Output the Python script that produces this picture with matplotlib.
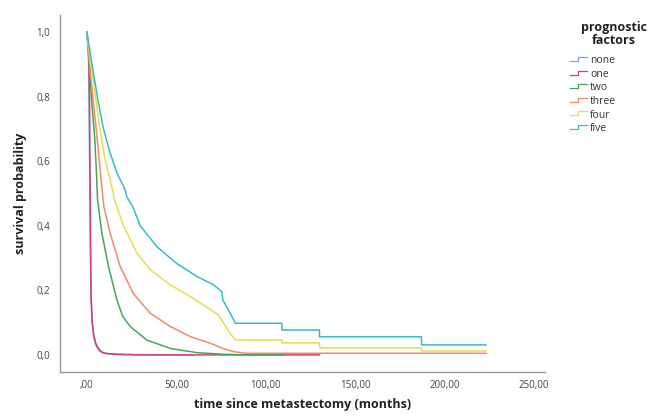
import matplotlib
matplotlib.use('Agg')
import matplotlib.pyplot as plt
from matplotlib.lines import Line2D
from matplotlib.legend_handler import HandlerBase
from matplotlib.ticker import FuncFormatter

plt.rcParams['font.family'] = ['Open Sans', 'DejaVu Sans']

# survival curves (months, probability)
t_none = [0, 0.5, 1.0, 1.3, 1.6, 1.9, 2.3, 3, 4, 5.5, 7, 9, 12, 20, 40, 60]
s_none = [1, 0.97, 0.9, 0.75, 0.55, 0.4, 0.2, 0.1, 0.05, 0.025, 0.012, 0.006, 0.003, 0.001, 0, 0]

t_one = [0, 0.5, 1.2, 1.5, 1.7, 1.9, 2.1, 2.4, 3, 3.7, 5, 6.5, 8, 10.2, 16.8, 30, 130]
s_one = [1, 0.98, 0.93, 0.8, 0.6, 0.48, 0.3, 0.17, 0.1, 0.067, 0.035, 0.02, 0.01, 0.005, 0.002, 0, 0]

t_two = [0, 0.9, 2.8, 4.3, 5.3, 6.0, 8.4, 12.1, 16.8, 20, 24.2, 33.5, 46.6, 61.5, 76, 90, 110]
s_two = [1, 0.935, 0.78, 0.68, 0.574, 0.48, 0.377, 0.274, 0.17, 0.12, 0.088, 0.046, 0.02, 0.007, 0.002, 0, 0]

t_three = [0, 1.9, 3.7, 5.6, 7.4, 9.5, 13, 18.6, 26, 35.4, 46.6, 57.7, 69, 76, 82, 89, 223]
s_three = [1, 0.88, 0.78, 0.68, 0.574, 0.46, 0.377, 0.274, 0.19, 0.129, 0.088, 0.057, 0.036, 0.02, 0.01, 0.005, 0.005]

t_four = [0, 0.9, 3.7, 6.5, 10.2, 14, 16, 20.5, 28, 35.4, 46.6, 57.7, 69, 73.6, 76.4, 80, 83,
          109, 109, 130, 130, 187, 187, 223]
s_four = [1, 0.955, 0.85, 0.73, 0.605, 0.52, 0.47, 0.40, 0.315, 0.264, 0.217, 0.181, 0.14, 0.124, 0.098, 0.067, 0.046,
          0.046, 0.037, 0.037, 0.022, 0.022, 0.012, 0.012]

t_five = [0, 1.9, 3.7, 6.5, 9.3, 13, 16.8, 21.4, 22.3, 26, 29.8, 39, 50, 61.5, 70.8, 75.4, 76, 80, 83,
          109, 109, 130, 130, 187, 187, 223]
s_five = [1, 0.935, 0.873, 0.78, 0.70, 0.626, 0.564, 0.512, 0.49, 0.455, 0.40, 0.336, 0.284, 0.243, 0.217, 0.196, 0.17, 0.13, 0.098,
          0.098, 0.077, 0.077, 0.056, 0.056, 0.031, 0.031]

labels = ['none', 'one', 'two', 'three', 'four', 'five']
colors = ['#79a6d6', '#d63d7c', '#45a55a', '#f28a6b', '#e6de4a', '#36bcc4']
times = [t_none, t_one, t_two, t_three, t_four, t_five]
surv = [s_none, s_one, s_two, s_three, s_four, s_five]


class StepHandler(HandlerBase):
    # little step glyph like the SPSS legend
    def create_artists(self, legend, orig_handle, xdescent, ydescent, width, height, fontsize, trans):
        x0 = -xdescent
        y0 = -ydescent
        xs = [x0, x0 + 0.45 * width, x0 + 0.45 * width, x0 + width]
        ys = [y0 + 0.3 * height, y0 + 0.3 * height, y0 + 0.85 * height, y0 + 0.85 * height]
        ln = Line2D(xs, ys, color=orig_handle.get_color(), lw=0.9)
        ln.set_transform(trans)
        return [ln]


fig = plt.figure(figsize=(6.61, 4.16), dpi=100)
ax = fig.add_axes([60 / 661, 44 / 416, 485 / 661, 357 / 416])

handles = []
for t, s, c, lab in zip(times, surv, colors, labels):
    h, = ax.plot(t, s, color=c, lw=1.1, label=lab)
    handles.append(h)

ax.set_xlim(-15, 256)
ax.set_ylim(-0.053, 1.053)
ax.set_xticks([0, 50, 100, 150, 200, 250])
ax.set_yticks([0, 0.2, 0.4, 0.6, 0.8, 1.0])
ax.xaxis.set_major_formatter(FuncFormatter(lambda v, p: ',00' if v == 0 else ('%.2f' % v).replace('.', ',')))
ax.yaxis.set_major_formatter(FuncFormatter(lambda v, p: ('%.1f' % v).replace('.', ',')))
ax.tick_params(length=0, labelsize=7, colors='#444444')
ax.tick_params(axis='y', pad=7)
ax.tick_params(axis='x', pad=6)
for side in ['top', 'right']:
    ax.spines[side].set_visible(False)
for side in ['left', 'bottom']:
    ax.spines[side].set_color('#999999')
    ax.spines[side].set_linewidth(1.0)

ax.set_xlabel('time since metastectomy (months)', fontsize=9, fontweight='bold', color='#222222', labelpad=5)
ax.set_ylabel('survival probability', fontsize=9, fontweight='bold', color='#222222', labelpad=7)

# legend title sits apart, centred, like SPSS puts it
fig.text(614 / 661, 1 - 21 / 416, 'prognostic\nfactors', ha='center', va='top', fontsize=9,
         fontweight='bold', color='#222222', linespacing=1.0)
leg = fig.legend(handles=handles, labels=labels, loc='upper left', bbox_to_anchor=(566 / 661, 1 - 51 / 416),
                 frameon=False, fontsize=7.5,
                 handler_map={Line2D: StepHandler()}, handlelength=1.6, handletextpad=0.3,
                 labelspacing=0.25, borderaxespad=0)
for txt in leg.get_texts():
    txt.set_color('#333333')

fig.savefig('out.png', dpi=100)
